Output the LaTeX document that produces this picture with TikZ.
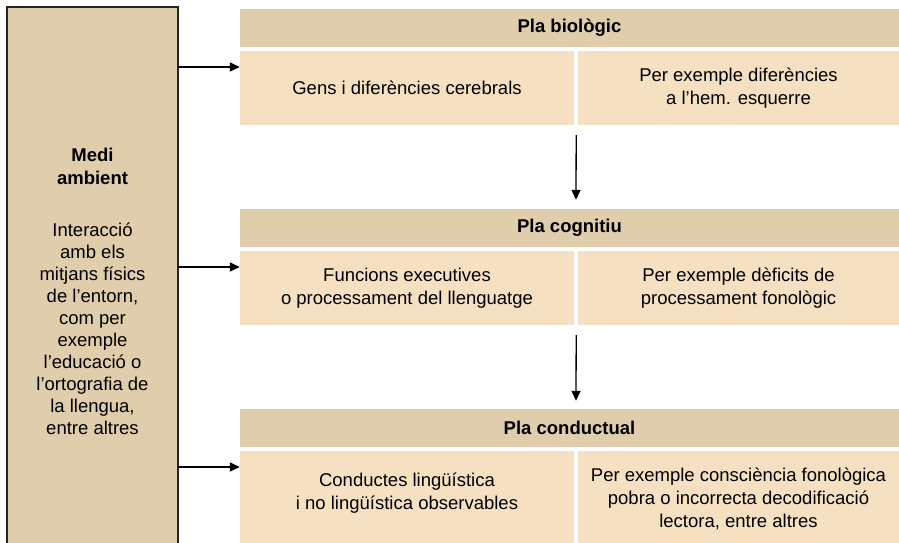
\documentclass[tikz,border=0pt]{standalone}
\usepackage{fontspec}
\setmainfont{Liberation Sans}
\usetikzlibrary{arrows.meta}
\definecolor{hdrcol}{HTML}{E0CDAB}
\definecolor{cellcol}{HTML}{F5E1C2}
\tikzset{
  hdr/.style={fill=hdrcol, draw=none, inner sep=0pt, minimum width=659pt, minimum height=38pt, font=\fontsize{18.5}{23}\selectfont\bfseries},
  cell/.style={fill=cellcol, draw=none, inner sep=0pt, align=center},
  cellL/.style={cell, minimum width=334pt},
  cellR/.style={cell, minimum width=321pt},
  arr/.style={line width=1.3pt, -{Triangle[length=10pt,width=9pt]}},
  txt/.style={align=center, inner sep=0pt},
}
\begin{document}
\begin{tikzpicture}[x=1pt,y=-1pt, font=\fontsize{18.5}{23}\selectfont]
\useasboundingbox (0,0) rectangle (899,543);
% left environment box
\node[fill=hdrcol, draw=none, inner sep=0pt, minimum width=171pt, minimum height=536pt] (env) at (92.5,275) {};
\draw[line width=1.6pt, black!85] (env.south west) -- (env.north west) -- (env.north east) -- (env.south east);
\node[txt, font=\fontsize{18.5}{23}\selectfont\bfseries] (envt) at (92.5,166) {Medi\\ambient};
\node[txt, font=\fontsize{18.5}{22}\selectfont] (envb) at (92.5,329) {Interacció\\amb els\\mitjans físics\\de l’entorn,\\com per\\exemple\\l’educació o\\l’ortografia de\\la llengua,\\entre altres};
% row 1
\node[hdr] (h1) at (569.5,28) {Pla biològic};
\node[cellL, minimum height=74pt] (c1l) at (407,88) {Gens i diferències cerebrals};
\node[cellR, minimum height=74pt] (c1r) at (738.5,88) {Per exemple diferències\\a l’hem. esquerre};
% row 2
\node[hdr] (h2) at (569.5,228) {Pla cognitiu};
\node[cellL, minimum height=74pt] (c2l) at (407,288) {Funcions executives\\o processament del llenguatge};
\node[cellR, minimum height=74pt] (c2r) at (738.5,288) {Per exemple dèficits de\\processament fonològic};
% row 3
\node[hdr] (h3) at (569.5,428) {Pla conductual};
\node[cellL, minimum height=92pt] (c3l) at (407,497) {};
\node[cellR, minimum height=92pt] (c3r) at (738.5,497) {};
\node[txt] (t3l) at (407,493) {Conductes lingüística\\i no lingüística observables};
\node[txt] (t3r) at (738.5,499) {Per exemple consciència fonològica\\pobra o incorrecta decodificació\\lectora, entre altres};
% horizontal arrows
\draw[arr] (env.east |- 0,67) -- (c1l.west |- 0,67);
\draw[arr] (env.east |- 0,267) -- (c2l.west |- 0,267);
\draw[arr] (env.east |- 0,467) -- (c3l.west |- 0,467);
% vertical arrows
\draw[arr] ([xshift=2pt,yshift=-10pt]c1l.south east) -- ([yshift=9pt]h2.north -| 576,0);
\draw[arr] ([xshift=2pt,yshift=-10pt]c2l.south east) -- ([yshift=8pt]h3.north -| 576,0);
\end{tikzpicture}
\end{document}
